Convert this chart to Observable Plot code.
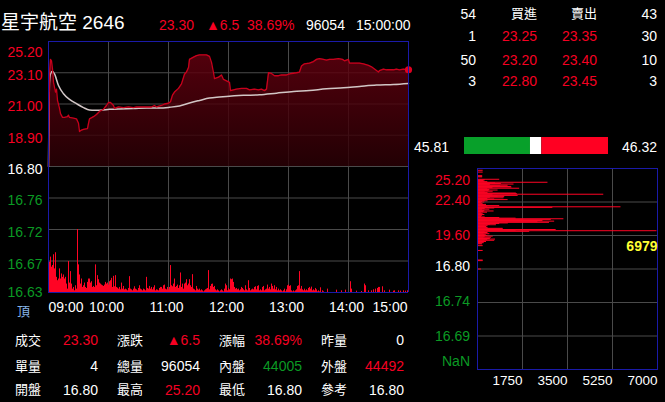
<!DOCTYPE html>
<html><head><meta charset="utf-8">
<script src="https://cdn.jsdelivr.net/npm/d3@7"></script>
<script src="https://cdn.jsdelivr.net/npm/@observablehq/plot@0.6"></script>
<style>
html,body{margin:0;padding:0;background:#000;}
#root{position:relative;width:665px;height:402px;background:#000;overflow:hidden;font-family:"Liberation Sans",Arial,"Noto Sans CJK TC",sans-serif;color:#fff;}
.t{position:absolute;white-space:nowrap;line-height:1;}
.p{position:absolute;}
svg{overflow:visible}
</style></head><body><div id="root"></div>
<script>
// ---------------- data ----------------
const stockName = "星宇航空 2646";
const refPrice = 16.80;
const headerValues = ["23.30", "▲6.5", "38.69%", "96054", "15:00:00"];

// intraday price [minute after 09:00, price]
const priceSeries = [[0,16.80],[1,22.90],[2,24.00],[3,23.90],[4,23.35],[5,22.45],[7,21.80],[8,22.00],[9,21.25],[11,20.70],[12,20.35],[14,20.10],[16,20.10],[19,20.15],[20,20.25],[21,20.10],[25,20.05],[28,20.00],[30,19.70],[31,19.15],[33,19.25],[35,19.30],[39,19.35],[40,19.70],[41,20.00],[45,20.15],[48,20.30],[51,20.50],[55,20.65],[58,20.90],[60,21.10],[62,21.10],[65,20.90],[66,20.70],[70,20.80],[75,20.75],[80,20.80],[85,20.75],[88,20.80],[93,20.80],[98,20.80],[103,20.80],[106,20.90],[108,20.80],[113,20.90],[116,21.00],[120,21.05],[122,21.15],[124,21.60],[126,21.80],[130,22.05],[133,22.35],[136,23.00],[138,23.15],[140,23.45],[141,24.00],[145,24.15],[148,24.25],[151,24.30],[158,24.30],[161,24.20],[163,23.80],[165,23.10],[166,22.70],[170,22.80],[173,22.95],[175,22.65],[178,22.55],[181,22.45],[182,21.90],[185,21.95],[188,22.00],[193,22.05],[198,22.05],[201,21.95],[206,22.00],[210,21.95],[213,22.00],[216,21.90],[218,22.00],[220,23.10],[223,23.05],[226,22.90],[230,22.90],[233,22.95],[238,22.95],[243,23.05],[248,23.10],[251,23.15],[253,23.55],[256,23.70],[261,23.75],[265,23.85],[268,24.00],[271,24.05],[275,24.00],[278,23.95],[281,24.00],[285,24.00],[290,24.05],[294,24.00],[296,23.90],[300,24.00],[301,23.75],[305,23.75],[311,23.75],[315,23.70],[320,23.60],[323,23.50],[326,23.35],[330,23.15],[331,23.25],[335,23.35],[338,23.30],[341,23.30],[345,23.30],[348,23.35],[351,23.30],[355,23.35],[360,23.30]];

// average price line [minute, price]
const avgSeries = [[0,16.80],[1,22.47],[2,23.02],[4,23.20],[6,23.02],[10,22.24],[15,21.69],[21,21.31],[28,21.02],[35,20.76],[41,20.60],[46,20.58],[51,20.58],[61,20.64],[71,20.67],[85,20.69],[98,20.73],[111,20.73],[121,20.78],[131,20.87],[141,21.07],[151,21.24],[161,21.40],[171,21.47],[178,21.51],[195,21.58],[211,21.62],[228,21.73],[245,21.84],[261,21.91],[278,22.02],[295,22.09],[311,22.18],[328,22.27],[345,22.31],[360,22.38]];

// per-minute volume (relative units), minutes 0..359
const volume = [
150,90,105,75,80,112,70,118,45,35,
40,70,40,55,45,52,40,45,25,10,
92,28,62,25,10,15,5,20,10,187,
82,52,25,40,15,20,28,15,12,30,
40,40,28,32,15,18,15,82,20,50,
38,28,25,22,20,18,22,30,25,28,
22,32,35,42,15,48,17,50,15,13,
10,15,8,28,10,18,8,10,8,5,
12,47,10,8,5,10,17,10,8,5,
12,20,10,8,5,10,8,5,45,12,
10,18,10,15,8,14,20,5,8,7,
5,12,15,15,10,20,22,10,8,15,
8,15,80,20,17,25,40,15,18,22,
12,20,58,15,25,10,25,28,38,20,
25,38,20,15,53,10,8,5,18,10,
7,10,5,8,5,2,5,8,10,12,
65,8,18,24,25,15,18,8,5,8,
5,2,5,8,5,2,10,25,20,5,
12,8,40,38,40,30,15,10,12,8,
10,5,8,15,12,8,5,20,8,5,
35,12,5,8,10,8,15,17,8,18,
20,5,8,5,15,18,5,8,10,22,
10,15,8,25,18,10,20,8,15,5,
10,5,8,5,2,5,10,2,8,20,
22,18,20,5,2,5,2,5,8,18,
20,62,10,18,8,5,10,5,8,5,
12,15,10,16,5,8,5,12,8,2,
5,2,14,0,5,2,0,0,0,10,
0,0,0,0,0,0,0,0,7,0,
0,0,0,5,0,0,0,7,0,0,
0,0,32,10,0,0,0,0,4,0,
0,0,0,3,0,0,25,20,0,0,
5,0,0,5,0,8,0,10,0,12,
15,15,0,0,17,0,5,0,0,0,
0,7,0,0,0,4,5,0,0,0,
5,0,4,0,0,5,0,4,0,5];

// volume by price [price, volume]
const profileSeries = [[25.20,220],[25.05,220],[24.90,220],[24.60,200],[24.55,200],[24.50,200],
[24.30,865],[24.25,300],[24.20,250],[24.15,285],[24.10,400],[24.05,2740],[24.00,700],[23.95,930],[23.90,1420],[23.85,500],[23.80,1190],[23.75,900],[23.70,1320],[23.65,1340],[23.60,600],[23.55,1640],[23.50,400],[23.45,480],[23.40,800],[23.35,450],[23.30,610],[23.25,300],[23.20,410],[23.15,1510],[23.10,1550],[23.05,4910],[23.00,600],[22.95,1580],[22.90,800],[22.85,1060],[22.80,500],[22.75,1030],[22.70,400],[22.65,670],[22.60,1190],[22.55,300],[22.50,410],[22.45,200],[22.40,285],[22.35,150],[22.30,200],[22.25,220],[22.20,350],[22.15,250],[22.10,865],[22.05,400],[22.00,5580],[21.95,2930],[21.90,670],[21.85,300],[21.80,480],[21.75,200],[21.70,285],[21.65,645],[21.60,250],[21.55,390],[21.50,150],[21.45,220],[21.40,150],[21.35,285],[21.30,200],[21.25,180],[21.20,155],[21.15,300],[21.10,865],[21.05,1500],[21.00,3360],[20.95,2870],[20.90,1800],[20.85,2545],[20.80,3000],[20.75,2350],[20.70,2800],[20.65,1200],[20.60,865],[20.55,500],[20.50,735],[20.45,410],[20.40,300],[20.35,350],[20.30,400],[20.25,410],[20.20,995],[20.15,1000],[20.10,3060],[20.05,1500],[20.00,6979],[19.95,2030],[19.90,300],[19.85,410],[19.80,250],[19.75,480],[19.70,300],[19.65,350],[19.60,400],[19.55,610],[19.50,300],[19.45,540],[19.40,250],[19.35,500],[19.30,700],[19.25,400],[19.20,670],[19.15,300],[19.10,350],[19.05,250],[19.00,260],[18.95,180],[18.90,200],
[18.75,220],[18.35,220],[17.55,220],[17.50,220],[16.80,155]];

// axes
const priceAxisValues = [25.20, 23.10, 21.00, 18.90, 16.80];
const priceAxisLabels = ["25.20", "23.10", "21.00", "18.90", "16.80"];
const volAxisFractions = [0.75, 0.5, 0.25, 0];
const volAxisLabels = ["16.76", "16.72", "16.67", "16.63"];
const timeAxisMinutes = [0, 60, 120, 180, 240, 300, 360];
const timeAxisLabels = ["09:00", "10:00", "11:00", "12:00", "13:00", "14:00", "15:00"];
const profileAxisValues = [25.20, 22.40, 19.60, 16.80, 14.00, 11.20, 8.40];
const profileAxisLabels = ["25.20", "22.40", "19.60", "16.80", "16.74", "16.69", "NaN"];
const profileXTicks = [1750, 3500, 5250, 7000];

// order book
const bookHeader = ["54", "買進", "賣出", "43"];
const bidQty = ["1", "50", "3"];
const bidPx = ["23.25", "23.20", "22.80"];
const askPx = ["23.35", "23.40", "23.45"];
const askQty = ["30", "10", "3"];

// pressure bar
const innerPct = 45.81, outerPct = 46.32;

// bottom table
const tableLabels = [["成交","漲跌","漲幅","昨量"],["單量","總量","內盤","外盤"],["開盤","最高","最低","參考"]];
const tableValues = [["23.30","▲6.5","38.69%","0"],["4","96054","44005","44492"],["16.80","25.20","16.80","16.80"]];
const tableColors = [["r","r","r","w"],["w","w","g","r"],["w","r","w","w"]];

// ---------------- style ----------------
const FONT = '"Liberation Sans", Arial, "Noto Sans CJK TC", sans-serif';
const RED = "#f50022", GREEN = "#0b9a24", WHITE = "#ffffff", BLUE = "#1a1aa8", GRID = "#4a4a4a", YELLOW = "#ffff33";
const BARRED = "#ff0424";
const cmap = {r: RED, g: GREEN, w: WHITE};
function colorFor(label) {
  const v = parseFloat(label);
  if (isNaN(v)) return GREEN;
  return v > refPrice ? RED : v === refPrice ? WHITE : GREEN;
}

const root = document.getElementById("root");
function txt(s, x, y, {anchor = "start", size = 14, color = WHITE, weight = "normal"} = {}) {
  const d = document.createElement("div");
  d.className = "t";
  d.textContent = s;
  d.style.fontSize = size + "px";
  d.style.color = color;
  d.style.fontWeight = weight;
  d.style.top = (y - size * 0.5) + "px";
  if (anchor === "end") d.style.right = (665 - x) + "px"; else d.style.left = x + "px";
  root.appendChild(d);
}
function place(node, left, top) {
  const w = document.createElement("div");
  w.className = "p"; w.style.left = left + "px"; w.style.top = top + "px";
  w.appendChild(node); root.appendChild(w);
}
const plotStyle = {background: "transparent", fontFamily: FONT, fontSize: "14px", color: WHITE};

// ---------------- header ----------------
txt(stockName, 1, 22, {size: 19});
const headerX = [159, 206, 247, 306, 356];
headerValues.forEach((s, i) => txt(s, headerX[i], 25, {size: 14, color: i < 3 ? RED : WHITE}));

// ---------------- upper price chart ----------------
const price = priceSeries.map(([m, p]) => ({m, p}));
const avg = avgSeries.map(([m, p]) => ({m, p}));
function yLabelMarks(values, labels, dys, dx, size) {
  return values.map((v, i) => Plot.text([{v, t: labels[i]}], {
    y: "v", text: "t", frameAnchor: "left", textAnchor: "end", dx, dy: dys[i],
    fill: colorFor(labels[i]), fontSize: size
  }));
}
const upper = Plot.plot({
  width: 410, height: 176, marginLeft: 48, marginRight: 2, marginTop: 41, marginBottom: 10,
  x: {domain: [0, 360], axis: null},
  y: {domain: [16.80, 25.20], axis: null},
  style: plotStyle,
  marks: [
    Plot.ruleY(priceAxisValues.slice(1), {stroke: GRID}),
    Plot.ruleX(timeAxisMinutes.slice(1, -1), {stroke: GRID}),
    Plot.areaY(price, {x: "m", y1: refPrice, y2: "p", fill: "url(#fillGrad)", fillOpacity: 0.82}),
    Plot.line(avg, {x: "m", y: "p", stroke: "#d2c6c6", strokeWidth: 1.5, curve: "monotone-x"}),
    Plot.line(price, {x: "m", y: "p", stroke: "#c8001c", strokeWidth: 1.3}),
    Plot.dot(price.slice(-1), {x: "m", y: "p", r: 3.6, fill: "#e00020"}),
    Plot.ruleY([priceAxisValues[0]], {stroke: BLUE}),
    Plot.ruleX([0, 360], {stroke: BLUE}),
    ...yLabelMarks(priceAxisValues, priceAxisLabels, [11, 3, 3, 3, 3], -6, 14)
  ]
});
const defs = d3.select(upper).insert("defs", ":first-child");
const grad = defs.append("linearGradient").attr("id", "fillGrad").attr("x1", 0).attr("y1", 0).attr("x2", 0).attr("y2", 1);
grad.append("stop").attr("offset", "0%").attr("stop-color", "#64000f");
grad.append("stop").attr("offset", "100%").attr("stop-color", "#2a0005");
place(upper, 0, 0);

// ---------------- lower volume chart ----------------
const vol = volume.map((v, m) => ({m, v}));
const volTop = 2 * d3.max(volume);
const lower = Plot.plot({
  width: 410, height: 160, marginLeft: 48, marginRight: 2, marginTop: 6, marginBottom: 28,
  x: {domain: [0, 360], axis: null},
  y: {domain: [0, volTop], axis: null},
  style: plotStyle,
  marks: [
    Plot.ruleY(volAxisFractions.filter(f => f > 0).map(f => f * volTop), {stroke: GRID}),
    Plot.ruleX(timeAxisMinutes.slice(1, -1), {stroke: GRID}),
    Plot.ruleX(vol.filter(d => d.v > 0), {x: "m", y1: 0, y2: "v", stroke: BARRED, strokeWidth: 1}),
    Plot.ruleY([0], {stroke: BLUE}),
    Plot.ruleX([0, 360], {stroke: BLUE}),
    ...yLabelMarks(volAxisFractions.map(f => f * volTop), volAxisLabels, [3, 3, 3.5, 0], -6, 14),
    ...timeAxisMinutes.map((m, i) => Plot.text([{m, t: timeAxisLabels[i]}], {
      x: "m", text: "t", frameAnchor: "bottom", dy: 19, fill: WHITE, fontSize: 14,
      textAnchor: i === 0 ? "start" : i === timeAxisMinutes.length - 1 ? "end" : "middle",
      dx: i === 0 ? 0 : i === timeAxisMinutes.length - 1 ? -1 : -2
    }))
  ]
});
place(lower, 0, 160);
txt("頂", 17, 311, {size: 13, color: "#86b4e6"});

// ---------------- bottom table ----------------
const labelX = [15, 117, 219, 321];
const valueX = [98, 200, 302, 404];
const rowY = [340, 366, 389.5];
tableLabels.forEach((row, r) => row.forEach((s, c) => {
  txt(s, labelX[c], rowY[r], {size: 13});
  txt(tableValues[r][c], valueX[c], rowY[r], {anchor: "end", size: 14, color: cmap[tableColors[r][c]]});
}));

// ---------------- order book ----------------
const bookX = [476, 537, 597, 657];
const bookY = [13.5, 36, 59.5, 81];
bookHeader.forEach((s, c) => txt(s, bookX[c], bookY[0], {anchor: "end", size: c === 1 || c === 2 ? 13 : 14}));
bidQty.forEach((s, r) => {
  txt(s, bookX[0], bookY[r + 1], {anchor: "end"});
  txt(bidPx[r], bookX[1], bookY[r + 1], {anchor: "end", color: RED});
  txt(askPx[r], bookX[2], bookY[r + 1], {anchor: "end", color: RED});
  txt(askQty[r], bookX[3], bookY[r + 1], {anchor: "end"});
});

// ---------------- pressure bar ----------------
const pressure = [
  {k: "in", v: innerPct, c: "#08a02a"},
  {k: "mid", v: 100 - innerPct - outerPct, c: "#ffffff"},
  {k: "out", v: outerPct, c: "#ff0022"}
];
const pbar = Plot.plot({
  width: 144, height: 17, margin: 0,
  x: {domain: [0, 100], axis: null},
  color: {type: "identity"},
  style: plotStyle,
  marks: [Plot.barX(pressure, Plot.stackX({x: "v", fill: "c"}))]
});
place(pbar, 464, 137);
txt(innerPct.toFixed(2), 449, 147, {anchor: "end"});
txt(outerPct.toFixed(2), 657, 147, {anchor: "end"});

// ---------------- volume by price ----------------
const profile = profileSeries.map(([p, v]) => ({p, v}));
const maxRow = d3.greatest(profile, d => d.v);
const hist = Plot.plot({
  width: 255, height: 240, marginLeft: 67, marginRight: 8, marginTop: 8, marginBottom: 31,
  x: {domain: [0, 7000], axis: null},
  y: {domain: [8.40, 25.20], axis: null},
  style: plotStyle,
  marks: [
    Plot.ruleY(profileAxisValues.slice(1, -1), {stroke: GRID}),
    Plot.ruleX(profileXTicks.slice(0, -1), {stroke: GRID}),
    Plot.ruleY(profile, {y: "p", x1: 0, x2: "v", stroke: BARRED, strokeWidth: 1}),
    Plot.frame({stroke: BLUE}),
    ...yLabelMarks(profileAxisValues, profileAxisLabels, [12, -1, 0, -2, -1, 1, -7.5], -7.5, 14),
    Plot.text(profileXTicks, {x: d => d, text: d => String(d), frameAnchor: "bottom", textAnchor: "end", dy: 15, fill: WHITE, fontSize: 13.5}),
    Plot.text([maxRow], {y: "p", text: d => String(d.v), frameAnchor: "right", textAnchor: "end", dy: 16, fill: YELLOW, fontSize: 14, fontWeight: "bold"})
  ]
});
place(hist, 410, 160);
</script></body></html>
